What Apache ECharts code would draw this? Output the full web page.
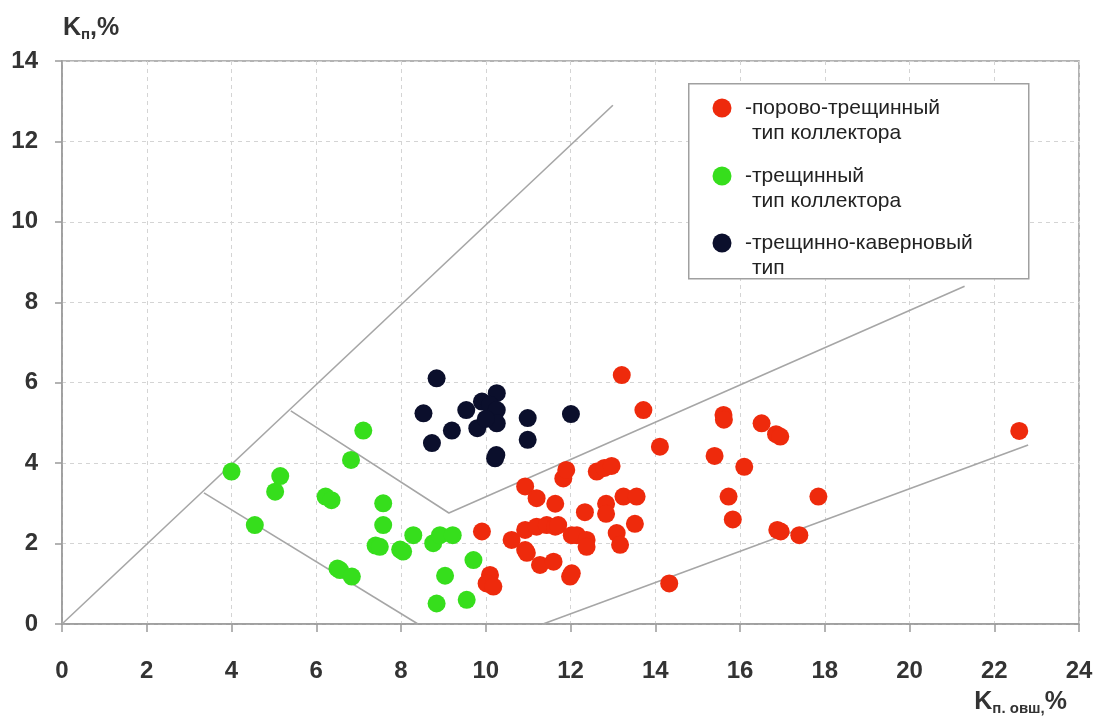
<!DOCTYPE html>
<html>
<head>
<meta charset="utf-8">
<script src="https://cdn.jsdelivr.net/npm/echarts@6/dist/echarts.min.js"></script>
<style>
  html, body { margin: 0; padding: 0; background: #fff; }
  #chart { width: 1096px; height: 720px; }
</style>
</head>
<body>
<div id="chart"></div>
<script>
// Collector types: porosity vs. total porosity (Kп vs Kп.овш)
const seriesNames = [
  ['-порово-трещинный', 'тип коллектора'],
  ['-трещинный', 'тип коллектора'],
  ['-трещинно-каверновый', 'тип']
];
const seriesColors = ['#ee2a0c', '#36de1c', '#0b0f2c'];

// pore-fracture collectors [Kп.овш, Kп]
const poreFracture = [
  [13.21, 6.19], [13.72, 5.32], [14.11, 4.41], [15.61, 5.20], [15.62, 5.08],
  [16.51, 4.99], [16.85, 4.72], [16.95, 4.66], [15.40, 4.18], [16.10, 3.91],
  [15.73, 3.17], [15.83, 2.60], [16.88, 2.34], [16.96, 2.30], [17.40, 2.21],
  [17.85, 3.17], [14.33, 1.01], [22.59, 4.80],
  [11.83, 3.62], [11.90, 3.83], [12.62, 3.79], [12.80, 3.88], [12.97, 3.93],
  [10.93, 3.42], [11.20, 3.13], [11.64, 2.99], [12.34, 2.78], [12.84, 2.99],
  [12.84, 2.74], [13.25, 3.17], [13.56, 3.17], [13.52, 2.49], [10.61, 2.09],
  [10.93, 2.34], [10.93, 1.84], [10.97, 1.77], [11.20, 2.42], [11.44, 2.46],
  [11.64, 2.42], [11.71, 2.46], [12.03, 2.21], [12.15, 2.21], [12.38, 2.09],
  [12.38, 1.92], [13.09, 2.26], [13.17, 1.97], [11.28, 1.47], [11.60, 1.55],
  [11.99, 1.18], [12.03, 1.26], [9.91, 2.30], [10.10, 1.22], [10.02, 1.01],
  [10.18, 0.93]
];

// fracture collectors
const fracture = [
  [4.00, 3.79], [5.15, 3.68], [5.03, 3.29], [4.55, 2.46], [6.82, 4.08],
  [7.11, 4.81], [6.22, 3.17], [6.36, 3.08], [7.58, 3.00], [7.58, 2.46],
  [7.40, 1.95], [7.50, 1.92], [7.98, 1.85], [8.05, 1.80], [8.29, 2.21],
  [8.76, 2.01], [8.92, 2.21], [9.22, 2.21], [6.50, 1.38], [6.56, 1.34],
  [6.84, 1.18], [9.71, 1.59], [9.04, 1.20], [8.84, 0.51], [9.55, 0.60]
];

// fracture-cavern collectors
const fractureCavern = [
  [8.84, 6.11], [8.53, 5.24], [8.73, 4.50], [9.20, 4.81], [9.54, 5.32],
  [9.80, 4.87], [9.91, 5.53], [10.26, 5.74], [10.10, 5.45], [10.26, 5.32],
  [10.26, 4.99], [10.00, 5.10], [10.22, 4.12], [10.25, 4.20], [10.99, 5.12],
  [10.99, 4.58], [12.01, 5.22]
];

// zone boundaries
const diagonalLine = [[0, 0], [13, 12.9]];
const fractureLowerLine = [[3.35, 3.26], [8.4, 0]];
const upperZoneLine = [[5.4, 5.3], [9.13, 2.76], [21.3, 8.4]];
const poreLowerLine = [[11.35, 0], [22.8, 4.45]];

const xRange = [0, 24];
const yRange = [0, 14];
const tickStep = 2;

const chart = echarts.init(document.getElementById('chart'));

const boundaryStyle = { color: '#a6a6a6', width: 1.6 };
function boundary(data) {
  return {
    type: 'line', data: data, symbol: 'none', silent: true,
    lineStyle: boundaryStyle, z: 1, animation: false
  };
}
function scatter(i, data) {
  return {
    name: seriesNames[i].join(' '), type: 'scatter', data: data,
    symbol: 'circle', symbolSize: 18,
    itemStyle: { color: seriesColors[i], opacity: 1 },
    z: 3, animation: false
  };
}

const labelFont = { fontFamily: 'Liberation Sans', fontSize: 24, fontWeight: 'bold', color: '#333' };
const axisLine = { show: true, lineStyle: { color: '#9a9a9a', width: 1.5 } };
const splitLine = { show: true, lineStyle: { color: '#d4d4d4', width: 1, type: [4, 4] } };

// legend block, rows of circle + two text lines
const legendGraphic = [{
  type: 'rect', left: 688, top: 83,
  shape: { width: 340, height: 195 },
  style: { fill: '#fff', stroke: '#a0a0a0', lineWidth: 1.5 }, z: 10
}];
const legendRowTop = [108, 176, 243];
seriesNames.forEach((lines, i) => {
  const cy = legendRowTop[i];
  legendGraphic.push({
    type: 'circle', shape: { cx: 722, cy: cy, r: 9.5 },
    style: { fill: seriesColors[i] }, z: 11
  });
  legendGraphic.push({
    type: 'text', x: 745, y: cy,
    style: { text: lines[0], fill: '#222', font: '21px "Liberation Sans"', verticalAlign: 'middle' }, z: 11
  });
  legendGraphic.push({
    type: 'text', x: 752, y: cy + 25,
    style: { text: lines[1], fill: '#222', font: '21px "Liberation Sans"', verticalAlign: 'middle' }, z: 11
  });
});

const nameRich = {
  k: { fontFamily: 'Liberation Sans', fontSize: 25, fontWeight: 'bold', color: '#333' },
  s: { fontFamily: 'Liberation Sans', fontSize: 15, fontWeight: 'bold', color: '#333', padding: [12, 0, 0, 0] }
};

chart.setOption({
  backgroundColor: '#fff',
  animation: false,
  title: [
    { text: '{k|K}{s|п}{k|,%}', left: 58, top: 10, textStyle: { rich: nameRich } },
    { text: '{k|K}{s|п. овш,}{k|%}', right: 24, top: 684, textStyle: { rich: nameRich } }
  ],
  grid: {
    left: 62, right: 17, top: 61, bottom: 96,
    show: true, borderColor: '#9a9a9a', borderWidth: 1.5, backgroundColor: '#fff'
  },
  xAxis: {
    type: 'value', min: xRange[0], max: xRange[1], interval: tickStep,
    axisLine: axisLine,
    axisTick: { show: true, inside: false, length: 8, lineStyle: { color: '#9a9a9a', width: 1.5 } },
    axisLabel: Object.assign({ margin: 35 }, labelFont),
    splitLine: splitLine
  },
  yAxis: {
    type: 'value', min: yRange[0], max: yRange[1], interval: tickStep,
    axisLine: axisLine,
    axisTick: { show: true, inside: false, length: 7, lineStyle: { color: '#9a9a9a', width: 1.5 } },
    axisLabel: Object.assign({ margin: 24 }, labelFont),
    splitLine: splitLine
  },
  series: [
    boundary(diagonalLine),
    boundary(fractureLowerLine),
    boundary(upperZoneLine),
    boundary(poreLowerLine),
    scatter(0, poreFracture),
    scatter(1, fracture),
    scatter(2, fractureCavern)
  ],
  graphic: legendGraphic
});
</script>
</body>
</html>
